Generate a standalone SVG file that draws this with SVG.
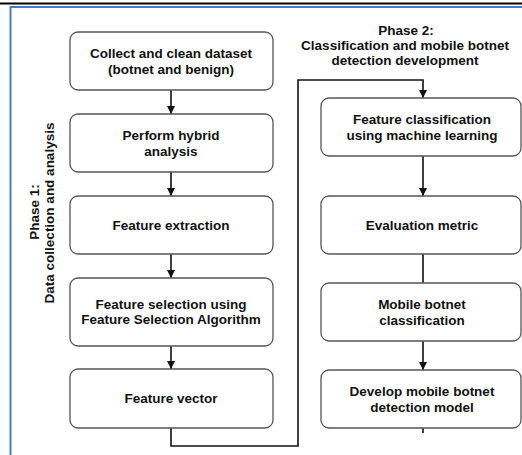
<svg xmlns="http://www.w3.org/2000/svg" width="522" height="455" viewBox="0 0 522 455">
<style>
.box{fill:#fff;stroke:#555;stroke-width:1.3}
.t{font-family:"Liberation Sans",Arial,Helvetica,sans-serif;font-weight:bold;font-size:13.5px;fill:#111;text-anchor:middle}
.c{fill:none;stroke:#111;stroke-width:1.6}
</style>
<defs>
<marker id="ah" viewBox="0 0 10 10" refX="10" refY="5" markerWidth="8" markerHeight="8" markerUnits="userSpaceOnUse" orient="auto">
<path d="M0,0 L10,5 L0,10 Z" fill="#111"/>
</marker>
</defs>
<rect width="522" height="455" fill="#fff"/>
<line x1="0" y1="3.5" x2="522" y2="3.5" stroke="#000" stroke-width="2.2"/>
<path d="M10.5,455 V7 H522" fill="none" stroke="#4a7cc4" stroke-width="2"/>

<g id="phase1">
<text class="t" transform="translate(39,212) rotate(-90)">Phase 1:</text>
<text class="t" transform="translate(54,213) rotate(-90)">Data collection and analysis</text>
</g>
<g id="phase2">
<text class="t" x="406" y="35">Phase 2:</text>
<text class="t" x="405" y="50">Classification and mobile botnet</text>
<text class="t" x="405" y="65">detection development</text>
</g>

<g id="connectors">
<line class="c" x1="171" y1="90" x2="171" y2="114" marker-end="url(#ah)"/>
<line class="c" x1="171" y1="172" x2="171" y2="196" marker-end="url(#ah)"/>
<line class="c" x1="171" y1="254" x2="171" y2="278" marker-end="url(#ah)"/>
<line class="c" x1="171" y1="346" x2="171" y2="369" marker-end="url(#ah)"/>
<path class="c" d="M171,428 V446 H298 V80 H423 V98" marker-end="url(#ah)"/>
<line class="c" x1="423" y1="156" x2="423" y2="196" marker-end="url(#ah)"/>
<line class="c" x1="423" y1="254" x2="423" y2="283"/>
<line class="c" x1="423" y1="341" x2="423" y2="370" marker-end="url(#ah)"/>
<line class="c" x1="423" y1="428" x2="423" y2="433"/>
</g>

<g id="n1"><rect class="box" x="70" y="32" width="203" height="58" rx="8"/>
<text class="t" x="171" y="58">Collect and clean dataset</text>
<text class="t" x="171" y="73.5">(botnet and benign)</text></g>
<g id="n2"><rect class="box" x="70" y="114" width="203" height="58" rx="8"/>
<text class="t" x="171" y="140">Perform hybrid</text>
<text class="t" x="171" y="155.5">analysis</text></g>
<g id="n3"><rect class="box" x="70" y="196" width="203" height="58" rx="8"/>
<text class="t" x="171" y="230">Feature extraction</text></g>
<g id="n4"><rect class="box" x="70" y="278" width="203" height="68" rx="8"/>
<text class="t" x="171" y="308.5">Feature selection using</text>
<text class="t" x="171" y="324">Feature Selection Algorithm</text></g>
<g id="n5"><rect class="box" x="70" y="369" width="203" height="59" rx="8"/>
<text class="t" x="171" y="403">Feature vector</text></g>

<g id="n6"><rect class="box" x="321" y="98" width="200" height="58" rx="8"/>
<text class="t" x="422" y="124">Feature classification</text>
<text class="t" x="422" y="139.5">using machine learning</text></g>
<g id="n7"><rect class="box" x="321" y="196" width="200" height="58" rx="8"/>
<text class="t" x="422" y="230">Evaluation metric</text></g>
<g id="n8"><rect class="box" x="321" y="283" width="200" height="58" rx="8"/>
<text class="t" x="422" y="309">Mobile botnet</text>
<text class="t" x="422" y="324.5">classification</text></g>
<g id="n9"><rect class="box" x="321" y="370" width="200" height="58" rx="8"/>
<text class="t" x="422" y="396">Develop mobile botnet</text>
<text class="t" x="422" y="411.5">detection model</text></g>
</svg>
